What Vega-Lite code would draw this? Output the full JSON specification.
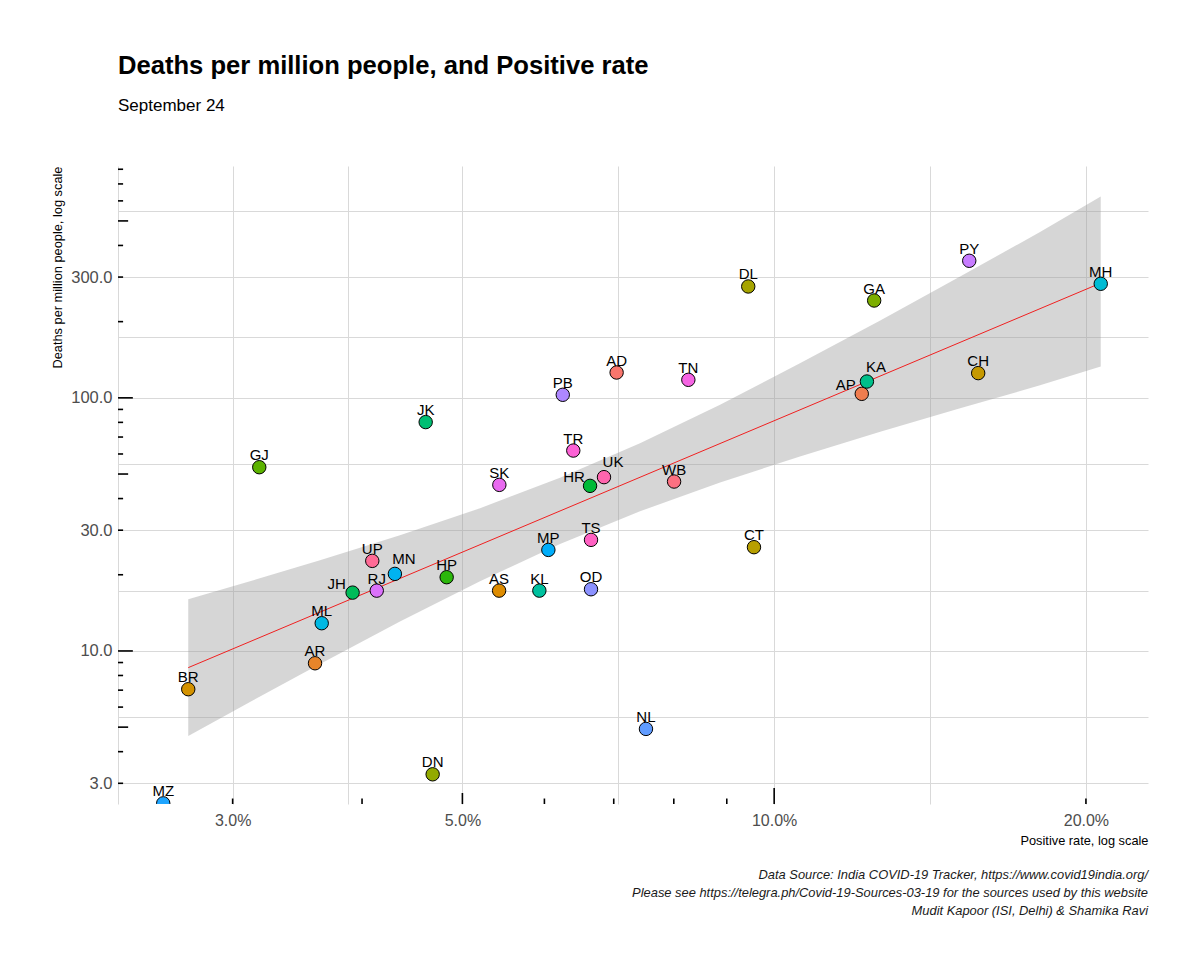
{
  "$schema": "https://vega.github.io/schema/vega-lite/v6.json",
  "background": "white",
  "padding": {"left": 51, "top": 54, "right": 20, "bottom": 10},
  "config": {
    "view": {"stroke": null},
    "font": "Liberation Sans",
    "axis": {"labelFont": "Liberation Sans", "titleFont": "Liberation Sans"}
  },
  "title": {
    "text": [
      "Data Source: India COVID-19 Tracker, https://www.covid19india.org/",
      "Please see https://telegra.ph/Covid-19-Sources-03-19 for the sources used by this website",
      "Mudit Kapoor (ISI, Delhi) & Shamika Ravi"
    ],
    "orient": "bottom",
    "anchor": "end",
    "font": "Liberation Sans",
    "fontStyle": "italic",
    "fontWeight": "normal",
    "fontSize": 12.9,
    "lineHeight": 18,
    "color": "#1a1a1a",
    "offset": 22
  },
  "datasets": {
    "states": [
      {"state": "AD", "x": 7.045, "y": 125.9},
      {"state": "AP", "x": 12.15, "y": 103.7},
      {"state": "AR", "x": 3.603, "y": 8.94},
      {"state": "AS", "x": 5.425, "y": 17.31},
      {"state": "BR", "x": 2.718, "y": 7.06},
      {"state": "CH", "x": 15.74, "y": 125.2},
      {"state": "CT", "x": 9.561, "y": 25.7},
      {"state": "DL", "x": 9.44, "y": 275.4},
      {"state": "DN", "x": 4.68, "y": 3.256},
      {"state": "GA", "x": 12.49, "y": 242.4},
      {"state": "GJ", "x": 3.183, "y": 53.2},
      {"state": "HP", "x": 4.828, "y": 19.56},
      {"state": "HR", "x": 6.641, "y": 44.9},
      {"state": "JH", "x": 3.917, "y": 17.0},
      {"state": "JK", "x": 4.608, "y": 80.2},
      {"state": "KA", "x": 12.29, "y": 116.0},
      {"state": "KL", "x": 5.933, "y": 17.31},
      {"state": "MH", "x": 20.67, "y": 282.2},
      {"state": "ML", "x": 3.657, "y": 12.87},
      {"state": "MN", "x": 4.303, "y": 20.16},
      {"state": "MP", "x": 6.053, "y": 25.07},
      {"state": "MZ", "x": 2.571, "y": 2.5},
      {"state": "NL", "x": 7.52, "y": 4.92},
      {"state": "OD", "x": 6.655, "y": 17.53},
      {"state": "PB", "x": 6.25, "y": 102.8},
      {"state": "PY", "x": 15.43, "y": 347.9},
      {"state": "RJ", "x": 4.133, "y": 17.31},
      {"state": "SK", "x": 5.428, "y": 45.3},
      {"state": "TN", "x": 8.263, "y": 117.8},
      {"state": "TR", "x": 6.398, "y": 61.9},
      {"state": "TS", "x": 6.655, "y": 27.47},
      {"state": "UK", "x": 6.85, "y": 48.6},
      {"state": "UP", "x": 4.092, "y": 22.69},
      {"state": "WB", "x": 8.005, "y": 46.7}
    ],
    "fit": [
      {"x": 2.718, "y": 8.59},
      {"x": 20.67, "y": 284}
    ],
    "band": [
      {"x": 2.718, "lo": 4.609, "hi": 16.01},
      {"x": 3.118, "lo": 6.283, "hi": 18.86},
      {"x": 3.643, "lo": 8.886, "hi": 22.81},
      {"x": 4.352, "lo": 13.07, "hi": 28.64},
      {"x": 5.2, "lo": 18.86, "hi": 36.66},
      {"x": 6.212, "lo": 26.44, "hi": 48.3},
      {"x": 7.421, "lo": 35.63, "hi": 66.15},
      {"x": 8.867, "lo": 46.3, "hi": 94.0},
      {"x": 10.59, "lo": 58.7, "hi": 136.9},
      {"x": 12.66, "lo": 73.4, "hi": 202.3},
      {"x": 15.12, "lo": 90.9, "hi": 301.6},
      {"x": 18.06, "lo": 112.1, "hi": 451.8},
      {"x": 20.67, "lo": 133, "hi": 625}
    ],
    "ytick_minor": [{"v": 3}, {"v": 4}, {"v": 6}, {"v": 7}, {"v": 8}, {"v": 9}, {"v": 20}, {"v": 30}, {"v": 40}, {"v": 60}, {"v": 70}, {"v": 80}, {"v": 90}, {"v": 200}, {"v": 300}, {"v": 400}, {"v": 600}, {"v": 700}, {"v": 800}],
    "ytick_mid": [{"v": 5}, {"v": 50}, {"v": 500}],
    "ytick_major": [{"v": 10}, {"v": 100}],
    "xtick_minor": [{"v": 3}, {"v": 4}, {"v": 6}, {"v": 7}, {"v": 8}, {"v": 9}, {"v": 20}],
    "xtick_mid": [{"v": 5}],
    "xtick_major": [{"v": 10}]
  },
  "vconcat": [
    {
      "width": 1030,
      "height": 638,
      "title": {
        "text": "Deaths per million people, and Positive rate",
        "subtitle": "September 24",
        "anchor": "start",
        "frame": "group",
        "font": "Liberation Sans",
        "fontSize": 25.6,
        "fontWeight": "bold",
        "color": "black",
        "subtitleFont": "Liberation Sans",
        "subtitleFontSize": 17,
        "subtitleColor": "black",
        "subtitlePadding": 18,
        "offset": 52
      },
      "layer": [
        {
          "data": {"name": "band"},
          "mark": {"type": "area", "color": "#999999", "opacity": 0.4},
          "encoding": {
            "x": {
              "field": "x", "type": "quantitative",
              "scale": {"type": "log", "domain": [2.325, 22.96], "nice": false},
              "axis": {
                "title": "Positive rate, log scale",
                "titleAnchor": "end",
                "titleFontSize": 12.8,
                "titleFontWeight": "normal",
                "titleColor": "black",
                "titlePadding": 6,
                "values": [3, 3.873, 5, 7.071, 10, 14.142, 20],
                "labelExpr": "indexof([3, 5, 10, 20], datum.value) >= 0 ? format(datum.value, '.1f') + '%' : ''",
                "labelFontSize": 16,
                "labelColor": "#4D4D4D",
                "labelPadding": 8,
                "ticks": false,
                "domain": false,
                "grid": true,
                "gridColor": "#D9D9D9",
                "gridWidth": 1,
                "labelFlush": false,
                "labelOverlap": false
              }
            },
            "y": {
              "field": "lo", "type": "quantitative",
              "scale": {"type": "log", "domain": [2.485, 824], "nice": false},
              "axis": {
                "title": "Deaths per million people, log scale",
                "titleAnchor": "end",
                "titleFontSize": 12.8,
                "titleFontWeight": "normal",
                "titleColor": "black",
                "titlePadding": 6,
                "values": [3, 5.477, 10, 17.32, 30, 54.77, 100, 173.2, 300, 547.7],
                "labelExpr": "indexof([3, 10, 30, 100, 300], datum.value) >= 0 ? format(datum.value, '.1f') : ''",
                "labelFontSize": 16.5,
                "labelColor": "#4D4D4D",
                "labelPadding": 6,
                "ticks": false,
                "domain": true,
                "domainColor": "#D9D9D9",
                "domainWidth": 1,
                "grid": true,
                "gridColor": "#D9D9D9",
                "gridWidth": 1,
                "labelFlush": false,
                "labelOverlap": false
              }
            },
            "y2": {"field": "hi"}
          }
        },
        {
          "data": {"name": "fit"},
          "mark": {"type": "line", "color": "#F02020", "strokeWidth": 1},
          "encoding": {
            "x": {"field": "x", "type": "quantitative"},
            "y": {"field": "y", "type": "quantitative"}
          }
        },
        {
          "data": {"name": "ytick_minor"},
          "mark": {"type": "rule", "color": "black", "strokeWidth": 1.6},
          "encoding": {
            "y": {"field": "v", "type": "quantitative"},
            "x": {"datum": 2.325},
            "x2": {"datum": 2.3515}
          }
        },
        {
          "data": {"name": "ytick_mid"},
          "mark": {"type": "rule", "color": "black", "strokeWidth": 1.6},
          "encoding": {
            "y": {"field": "v", "type": "quantitative"},
            "x": {"datum": 2.325},
            "x2": {"datum": 2.378}
          }
        },
        {
          "data": {"name": "ytick_major"},
          "mark": {"type": "rule", "color": "black", "strokeWidth": 1.6},
          "encoding": {
            "y": {"field": "v", "type": "quantitative"},
            "x": {"datum": 2.325},
            "x2": {"datum": 2.403}
          }
        },
        {
          "data": {"name": "xtick_minor"},
          "mark": {"type": "rule", "color": "black", "strokeWidth": 1.6},
          "encoding": {
            "x": {"field": "v", "type": "quantitative"},
            "y": {"datum": 2.485},
            "y2": {"datum": 2.612}
          }
        },
        {
          "data": {"name": "xtick_mid"},
          "mark": {"type": "rule", "color": "black", "strokeWidth": 1.6},
          "encoding": {
            "x": {"field": "v", "type": "quantitative"},
            "y": {"datum": 2.485},
            "y2": {"datum": 2.747}
          }
        },
        {
          "data": {"name": "xtick_major"},
          "mark": {"type": "rule", "color": "black", "strokeWidth": 1.6},
          "encoding": {
            "x": {"field": "v", "type": "quantitative"},
            "y": {"datum": 2.485},
            "y2": {"datum": 2.874}
          }
        },
        {
          "data": {"name": "states"},
          "mark": {"type": "point", "shape": "circle", "filled": true, "size": 180, "stroke": "black", "strokeWidth": 1, "opacity": 1, "clip": true},
          "encoding": {
            "x": {"field": "x", "type": "quantitative"},
            "y": {"field": "y", "type": "quantitative"},
            "fill": {
              "field": "state", "type": "nominal", "legend": null,
              "scale": {
                "domain": ["AD","AP","AR","AS","BR","CH","CT","DL","DN","GA","GJ","HP","HR","JH","JK","KA","KL","MH","ML","MN","MP","MZ","NL","OD","PB","PY","RJ","SK","TN","TR","TS","UK","UP","WB"],
                "range": ["#F8766D","#F07D4F","#E8852A","#DE8C00","#D39200","#C69900","#B79F00","#A6A400","#93AA00","#7CAE00","#5CB300","#2BB70B","#00BA38","#00BC59","#00BF73","#00C08A","#00C19F","#00BCD4","#00B9E3","#00B3F0","#00ADFA","#1FA5FF","#619CFF","#8C92FF","#AD87FF","#C77CFF","#DB72FB","#E96AF0","#F564E3","#FC61D5","#FF61C3","#FF65AE","#FF6B96","#FC7081"]
              }
            }
          }
        },
        {
          "data": {"name": "states"},
          "transform": [{"filter": {"not": {"field": "state", "oneOf": ["AP", "HR", "JH", "MN", "KA", "UK"]}}}],
          "mark": {"type": "text", "font": "Liberation Sans", "fontSize": 15, "color": "black", "baseline": "middle", "align": "center", "dy": -12},
          "encoding": {
            "x": {"field": "x", "type": "quantitative"},
            "y": {"field": "y", "type": "quantitative"},
            "text": {"field": "state"}
          }
        },
        {
          "data": {"name": "states"},
          "transform": [{"filter": {"field": "state", "oneOf": ["AP", "HR", "JH"]}}],
          "mark": {"type": "text", "font": "Liberation Sans", "fontSize": 15, "color": "black", "baseline": "middle", "align": "center", "dx": -16, "dy": -9},
          "encoding": {
            "x": {"field": "x", "type": "quantitative"},
            "y": {"field": "y", "type": "quantitative"},
            "text": {"field": "state"}
          }
        },
        {
          "data": {"name": "states"},
          "transform": [{"filter": {"field": "state", "oneOf": ["MN", "KA", "UK"]}}],
          "mark": {"type": "text", "font": "Liberation Sans", "fontSize": 15, "color": "black", "baseline": "middle", "align": "center", "dx": 9, "dy": -15},
          "encoding": {
            "x": {"field": "x", "type": "quantitative"},
            "y": {"field": "y", "type": "quantitative"},
            "text": {"field": "state"}
          }
        }
      ]
    }
  ]
}
